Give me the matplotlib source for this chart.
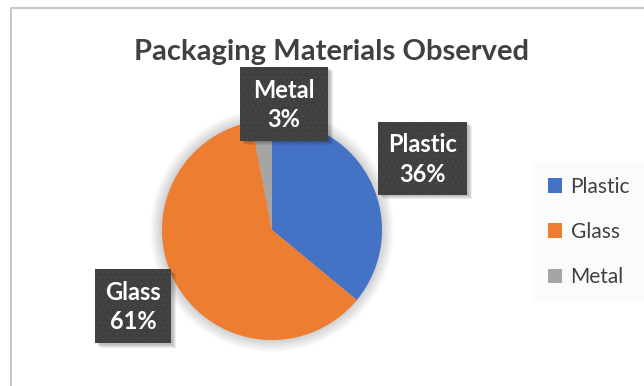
import matplotlib
matplotlib.use("Agg")
import matplotlib.pyplot as plt
from matplotlib.patches import Rectangle, Circle

plt.rcParams['font.family'] = ['Lato', 'DejaVu Sans']
plt.rcParams['hatch.linewidth'] = 0.0

title = "Packaging Materials Observed"
categories = ["Plastic", "Glass", "Metal"]
values = [36, 61, 3]
colors = ["#4472C4", "#ED7D31", "#A5A5A5"]

W, H = 644, 386
CX, CY, R = 272, 230, 110   # pie centre and radius in pixels


def px(x, y):
    # pixel position -> data coordinates (1 unit = pie radius)
    return (x - CX) / R, (CY - y) / R


# label boxes in pixels: left, top, right, bottom
label_boxes = [(378, 122, 467, 195), (95, 269, 171, 343), (240, 67, 328, 141)]

fig = plt.figure(figsize=(W / 100, H / 100), dpi=100)
ax = fig.add_axes([0, 0, 1, 1])

# soft shadow round the pie
for k in range(10):
    ax.add_patch(Circle((0, 0), 1 + k * 0.012, color="black", alpha=0.018, lw=0, zorder=0))

wedges, _ = ax.pie(values, colors=colors, startangle=90, counterclock=False,
                   radius=1, wedgeprops=dict(linewidth=0))
for w in wedges:
    w.set_zorder(2)

total = sum(values)
for cat, v, (l, t, r, b) in zip(categories, values, label_boxes):
    x0, y1 = px(l, t)
    x1, y0 = px(r, b)
    for k in range(4):
        d = (1.5 + k) / R
        ax.add_patch(Rectangle((x0 + d, y0 - d), x1 - x0, y1 - y0, facecolor="black",
                               alpha=0.07, lw=0, zorder=3))
    ax.add_patch(Rectangle((x0, y0), x1 - x0, y1 - y0, facecolor="#404040",
                           edgecolor="#5c5c5c", hatch="...", lw=0, zorder=4))
    ax.text((x0 + x1) / 2, (y0 + y1) / 2 - 1 / R, f"{cat}\n{round(100 * v / total)}%",
            ha="center", va="center", color="white", fontsize=17,
            fontweight="bold", linespacing=1.32, zorder=5)

tx, ty = px(332, 52)
ax.text(tx, ty, title, ha="center", va="center", fontsize=21,
        fontweight="bold", color="#404040")

lx, ly = px(533, 162)
leg = ax.legend(wedges, categories, loc="upper left", bbox_to_anchor=(lx, ly),
                bbox_transform=ax.transData, frameon=True, fontsize=15,
                handlelength=0.7, handleheight=0.7, handletextpad=0.4,
                labelspacing=1.22, borderpad=0.7, borderaxespad=0)
leg.get_frame().set_facecolor("#fafafa")
leg.get_frame().set_edgecolor("none")
leg.get_frame().set_boxstyle("square", pad=0)
for t in leg.get_texts():
    t.set_color("#404040")

ax.set_xlim(-CX / R, (W - CX) / R)
ax.set_ylim((CY - H) / R, CY / R)
ax.set_aspect("auto")
ax.axis("off")

# chart border (top and left visible)
bx, by = px(10.5, 8.5)
ax.plot([bx, bx, (W + 5 - CX) / R], [(CY - H - 5) / R, by, by],
        color="#c8c8c8", lw=1.5, clip_on=False, zorder=1)

fig.savefig("out.png", dpi=100)
